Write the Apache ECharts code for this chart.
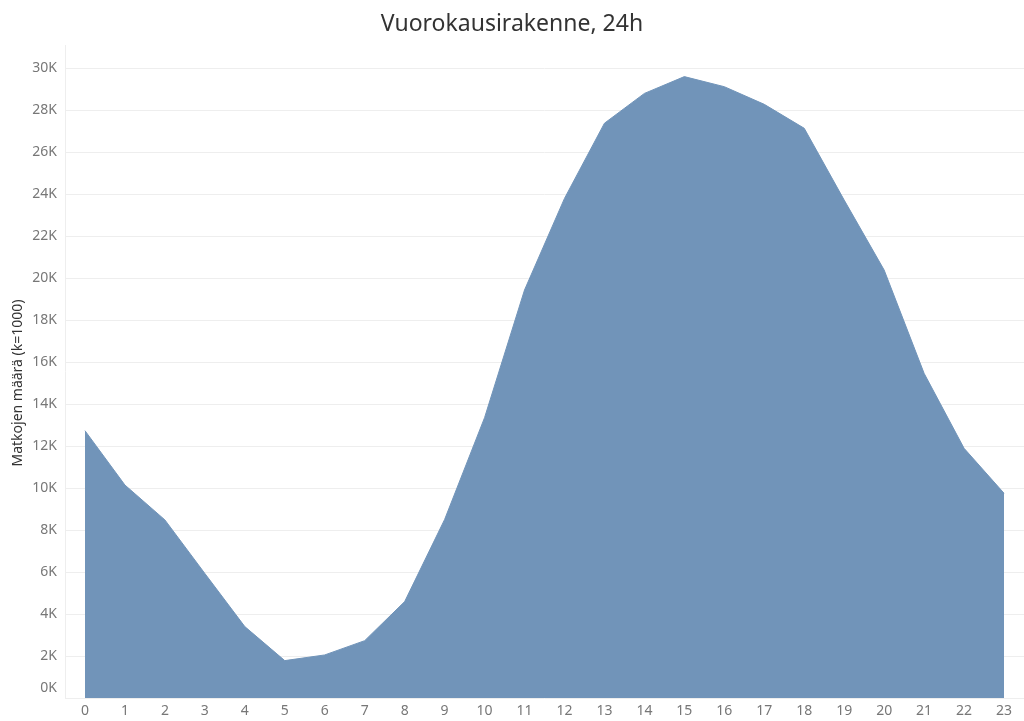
<!DOCTYPE html>
<html>
<head>
<meta charset="utf-8">
<script src="https://cdn.jsdelivr.net/npm/echarts@6/dist/echarts.min.js"></script>
<style>
  html, body { margin: 0; padding: 0; background: #fff; }
  #chart { width: 1024px; height: 721px; }
</style>
</head>
<body>
<div id="chart"></div>
<script>
// tunnit 0-23
const hours = ['0','1','2','3','4','5','6','7','8','9','10','11','12','13','14','15','16','17','18','19','20','21','22','23']
// matkojen määrä per tunti
const trips = [12730, 10140, 8480, 5930, 3400, 1780, 2050, 2730, 4590, 8500, 13350, 19430,
  23790, 27370, 28790, 29590, 29110, 28270, 27130, 23710, 20380, 15460, 11890, 9750]

const chart = echarts.init(document.getElementById('chart'))

chart.setOption({
  animation: false,
  title: {
    text: 'Vuorokausirakenne, 24h',
    left: 'center',
    top: 8,
    textStyle: { fontFamily: 'Noto Sans', fontSize: 23, fontWeight: 'normal', color: '#333' }
  },
  grid: { left: 65, right: 0, top: 68, bottom: 23, outerBoundsMode: 'none', containLabel: false },
  xAxis: {
    type: 'category',
    data: hours,
    boundaryGap: true,
    axisLine: { show: false },
    axisTick: { show: false },
    axisLabel: { color: '#777', fontSize: 14, fontFamily: 'Noto Sans', margin: 6 }
  },
  yAxis: {
    type: 'value',
    min: 0,
    max: 30000,
    interval: 2000,
    name: 'Matkojen määrä (k=1000)',
    nameLocation: 'middle',
    nameGap: 40,
    nameMoveOverlap: false,
    nameTextStyle: { color: '#333', fontSize: 14, fontFamily: 'Noto Sans' },
    axisLine: { show: false },
    axisTick: { show: false },
    splitLine: { lineStyle: { color: '#eeeeee', width: 1 } },
    axisLabel: {
      color: '#777',
      fontSize: 14,
      fontFamily: 'Noto Sans',
      margin: 8,
      formatter: v => v === 0 ? '{z|0K}' : (v / 1000) + 'K',
      rich: { z: { color: '#777', fontSize: 14, fontFamily: 'Noto Sans', padding: [0, 0, 20, 0] } }
    }
  },
  graphic: [{
    type: 'line',
    shape: { x1: 65.5, y1: 45, x2: 65.5, y2: 698 },
    style: { stroke: '#eeeeee', lineWidth: 1 }
  }],
  series: [{
    type: 'line',
    data: trips,
    symbol: 'none',
    lineStyle: { color: '#7194b9', width: 1 },
    areaStyle: { color: '#7194b9', opacity: 1 }
  }]
})
</script>
</body>
</html>
